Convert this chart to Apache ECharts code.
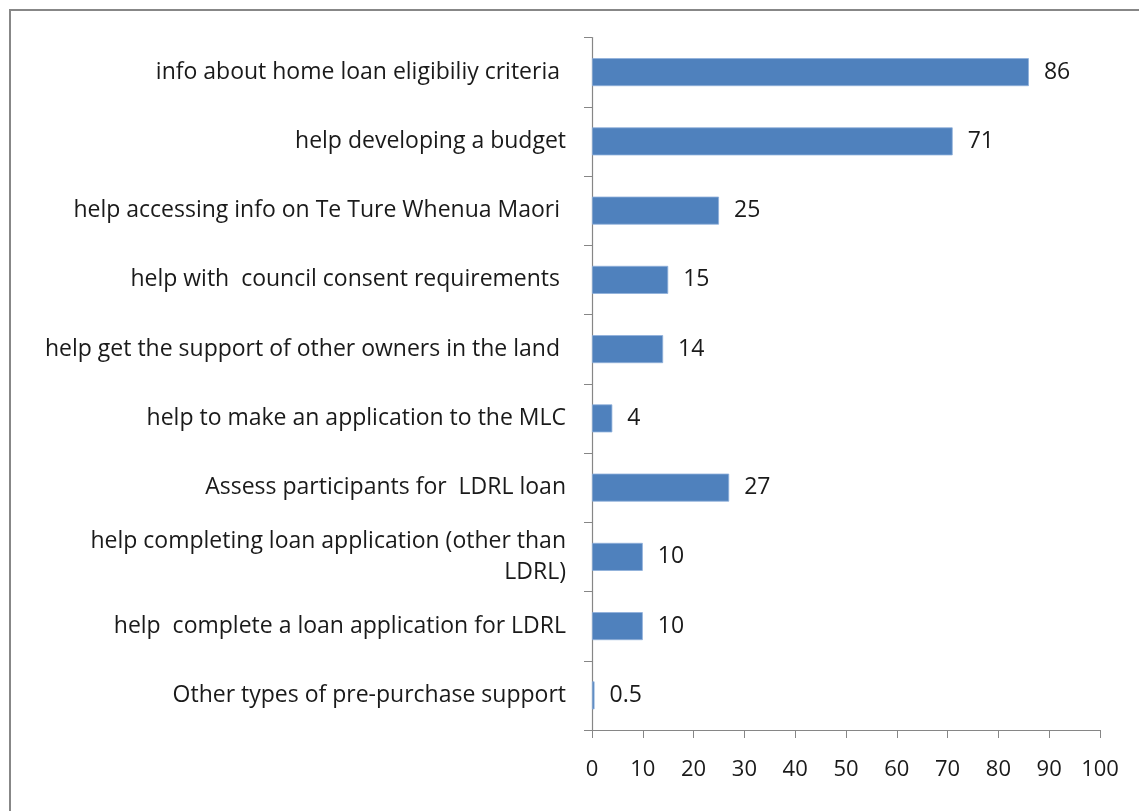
<!DOCTYPE html>
<html>
<head>
<meta charset="utf-8">
<script src="https://cdn.jsdelivr.net/npm/echarts@6/dist/echarts.min.js"></script>
<style>
  html, body { margin: 0; padding: 0; background: #fff; }
  #frame { position: absolute; left: 9px; top: 9px; width: 1200px; height: 900px; border: 2px solid #878787; box-sizing: border-box; }
  #chart { position: absolute; left: 0; top: 0; width: 1139px; height: 811px; }
</style>
</head>
<body>
<div id="frame"></div>
<div id="chart"></div>
<script>
// Types of pre-purchase support (counts)
const categories = [
  'info about home loan eligibiliy criteria ',
  'help developing a budget',
  'help accessing info on Te Ture Whenua Maori ',
  'help with  council consent requirements ',
  'help get the support of other owners in the land ',
  'help to make an application to the MLC',
  'Assess participants for  LDRL loan',
  'help completing loan application (other than\nLDRL)',
  'help  complete a loan application for LDRL',
  'Other types of pre-purchase support'
];
const values = [86, 71, 25, 15, 14, 4, 27, 10, 10, 0.5];
const xTicks = [0, 10, 20, 30, 40, 50, 60, 70, 80, 90, 100];

const font = '"Open Sans", sans-serif';
const chart = echarts.init(document.getElementById('chart'), null, { renderer: 'canvas' });
chart.setOption({
  animation: false,
  backgroundColor: 'transparent',
  grid: { left: 592, top: 37.5, right: 39, bottom: 81, containLabel: false },
  xAxis: {
    type: 'value',
    min: xTicks[0],
    max: xTicks[xTicks.length - 1],
    interval: 10,
    axisLine: { show: true, lineStyle: { color: '#868686', width: 1.2 } },
    axisTick: { show: true, length: 8, lineStyle: { color: '#868686' } },
    splitLine: { show: false },
    axisLabel: { color: '#1a1a1a', fontFamily: font, fontSize: 22, margin: 29 }
  },
  yAxis: {
    type: 'category',
    inverse: true,
    data: categories,
    axisLine: { show: true, lineStyle: { color: '#868686', width: 1.2 } },
    axisTick: { show: true, length: 8, lineStyle: { color: '#868686' } },
    axisLabel: {
      color: '#1a1a1a', fontFamily: font, fontSize: 23, margin: 26,
      align: 'right', lineHeight: 31
    }
  },
  series: [{
    type: 'bar',
    data: values,
    barWidth: 28,
    itemStyle: { color: '#4F81BD', borderColor: '#8FB0DA', borderWidth: 0.8 },
    label: {
      show: true, position: 'right', distance: 15,
      color: '#1a1a1a', fontFamily: font, fontSize: 23
    }
  }]
});
</script>
</body>
</html>
